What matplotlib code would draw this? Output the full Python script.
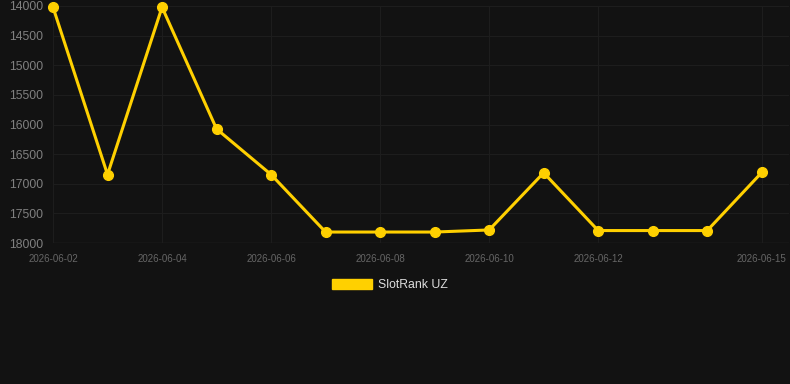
import matplotlib
matplotlib.use("Agg")
import matplotlib.pyplot as plt
import matplotlib.dates as mdates
from matplotlib.patches import Patch

dates = ["2026-06-02", "2026-06-03", "2026-06-04", "2026-06-05", "2026-06-06",
         "2026-06-07", "2026-06-08", "2026-06-09", "2026-06-10", "2026-06-11",
         "2026-06-12", "2026-06-13", "2026-06-14", "2026-06-15"]
values = [14020, 16845, 14020, 16075, 16845, 17815, 17815, 17815, 17780, 16815,
          17790, 17790, 17790, 16810]
yticks = [14000, 14500, 15000, 15500, 16000, 16500, 17000, 17500, 18000]
xtick_labels = ["2026-06-02", "2026-06-04", "2026-06-06", "2026-06-08",
                "2026-06-10", "2026-06-12", "2026-06-15"]
series_name = "SlotRank UZ"

plt.rcParams['font.family'] = ['Liberation Sans', 'DejaVu Sans']
bg = "#121212"
fig = plt.figure(figsize=(7.9, 3.84), dpi=100, facecolor=bg)
ax = fig.add_axes([53/790, 1-243/384, (789-53)/790, (243-6)/384], facecolor=bg)

x = mdates.datestr2num(dates)
ax.plot(x, values, color="#FFD000", lw=2.2, marker="o", ms=7, zorder=3, label=series_name,
        solid_joinstyle="round", clip_on=False)

ax.set_ylim(18000, 14000)
ax.set_yticks(yticks)
xt = mdates.datestr2num(xtick_labels)
ax.set_xticks(xt)
ax.set_xticklabels(xtick_labels)
ax.set_xlim(x[0], x[-1] + 0.5)

ax.grid(True, color="#1d1d1d", lw=0.8)
for s in ax.spines.values():
    s.set_visible(False)
ax.tick_params(axis="y", colors="#808080", labelsize=8.8, length=0, pad=7)
ax.tick_params(axis="x", colors="#666666", labelsize=7, length=0, pad=8)
ax.axhline(18000, color="#272727", lw=1, zorder=1)

handle = Patch(facecolor="#FFD000", edgecolor="#FFD000")
fig.legend([handle], [series_name], loc="center", bbox_to_anchor=(390/790, 1-285/384),
           frameon=False, fontsize=8.8, handlelength=3.3, handleheight=0.9,
           labelcolor="#dddddd", handletextpad=0.5)

fig.savefig("out.png", dpi=100, facecolor=bg)
